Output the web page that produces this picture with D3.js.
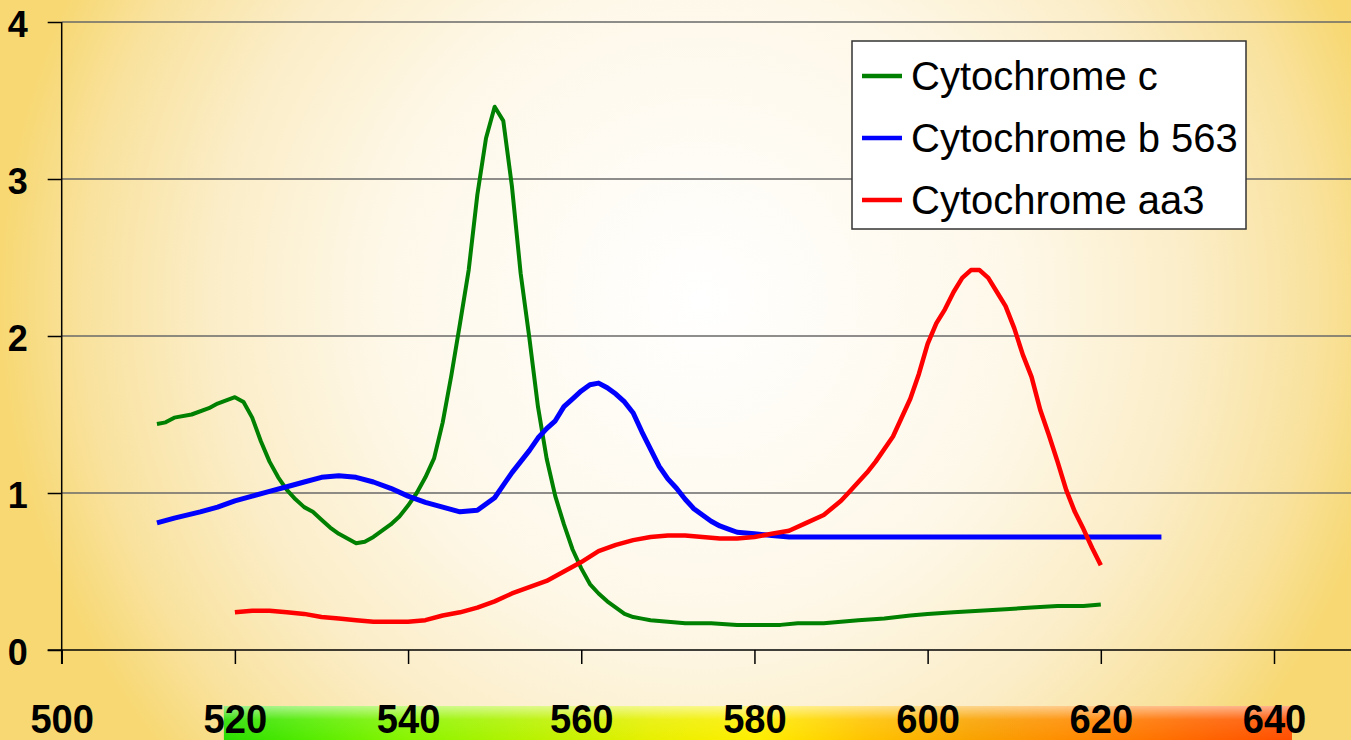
<!DOCTYPE html>
<html>
<head>
<meta charset="utf-8">
<script src="https://cdn.jsdelivr.net/npm/d3@7"></script>
<style>
  body { margin: 0; overflow: hidden; }
  svg { display: block; }
</style>
</head>
<body>
<div id="chart"></div>
<script>
// wavelength (nm) / absorbance pairs
const cytC = [
  [511, 1.44], [512, 1.45], [513, 1.48], [515, 1.50], [517, 1.54], [518, 1.57], [519, 1.59], [520, 1.61],
  [521, 1.58], [522, 1.48], [523, 1.33], [524, 1.20], [525, 1.10], [526, 1.02], [527, 0.96], [528, 0.91],
  [529, 0.88], [530, 0.83], [531, 0.78], [532, 0.74], [533, 0.71], [534, 0.68], [535, 0.69], [536, 0.72],
  [537, 0.76], [538, 0.80], [539, 0.85], [540, 0.92], [541, 1.00], [542, 1.10], [543, 1.22], [544, 1.45],
  [545, 1.75], [546, 2.08], [547, 2.42], [548, 2.90], [549, 3.26], [550, 3.46], [551, 3.37], [552, 2.95],
  [553, 2.40], [554, 1.99], [555, 1.55], [556, 1.22], [557, 0.98], [558, 0.80], [559, 0.64], [560, 0.52],
  [561, 0.42], [562, 0.36], [563, 0.31], [564, 0.27], [565, 0.23], [566, 0.21], [567, 0.20], [568, 0.19],
  [570, 0.18], [572, 0.17], [575, 0.17], [578, 0.16], [580, 0.16], [583, 0.16], [585, 0.17], [588, 0.17],
  [590, 0.18], [592, 0.19], [595, 0.20], [598, 0.22], [600, 0.23], [603, 0.24], [606, 0.25], [609, 0.26],
  [612, 0.27], [615, 0.28], [618, 0.28], [620, 0.29]
];

const cytB = [
  [511, 0.81], [513, 0.84], [516, 0.88], [518, 0.91], [520, 0.95], [522, 0.98], [524, 1.01], [526, 1.04],
  [528, 1.07], [530, 1.10], [532, 1.11], [534, 1.10], [536, 1.07], [538, 1.03], [540, 0.98], [542, 0.94],
  [544, 0.91], [546, 0.88], [548, 0.89], [549, 0.93], [550, 0.97], [551, 1.05], [552, 1.13], [553, 1.20],
  [554, 1.27], [555, 1.35], [556, 1.41], [557, 1.46], [558, 1.55], [559, 1.60], [560, 1.65], [561, 1.69],
  [562, 1.70], [563, 1.67], [564, 1.63], [565, 1.58], [566, 1.51], [567, 1.39], [568, 1.28], [569, 1.17],
  [570, 1.09], [571, 1.03], [572, 0.96], [573, 0.90], [574, 0.86], [575, 0.82], [576, 0.79], [577, 0.77],
  [578, 0.75], [580, 0.74], [582, 0.73], [584, 0.72], [627, 0.72]
];

const cytAA3 = [
  [520, 0.24], [522, 0.25], [524, 0.25], [526, 0.24], [528, 0.23], [530, 0.21], [532, 0.20], [534, 0.19],
  [536, 0.18], [538, 0.18], [540, 0.18], [542, 0.19], [544, 0.22], [546, 0.24], [548, 0.27], [550, 0.31],
  [552, 0.36], [554, 0.40], [556, 0.44], [558, 0.50], [560, 0.56], [562, 0.63], [564, 0.67], [566, 0.70],
  [568, 0.72], [570, 0.73], [572, 0.73], [574, 0.72], [576, 0.71], [578, 0.71], [580, 0.72], [582, 0.74],
  [584, 0.76], [586, 0.81], [588, 0.86], [590, 0.95], [591, 1.01], [593, 1.13], [594, 1.20], [596, 1.36],
  [598, 1.60], [599, 1.76], [600, 1.95], [601, 2.08], [602, 2.17], [603, 2.28], [604, 2.37], [605, 2.42],
  [606, 2.42], [607, 2.37], [608, 2.28], [609, 2.19], [610, 2.05], [611, 1.88], [612, 1.74], [613, 1.53],
  [614, 1.37], [615, 1.20], [616, 1.02], [617, 0.88], [618, 0.77], [619, 0.65], [620, 0.54]
];

const seriesNames = ["Cytochrome c", "Cytochrome b 563", "Cytochrome aa3"];
const seriesColors = ["#008000", "#0000ff", "#ff0000"];
const seriesWidths = [4, 5, 4.5];
const xTicks = [500, 520, 540, 560, 580, 600, 620, 640];
const yTicks = [0, 1, 2, 3, 4];

const width = 1351, height = 740;

const x = d3.scaleLinear().domain([500, 640]).range([61.7, 1274]);
const y = d3.scaleLinear().domain([0, 4]).range([650, 22]);

const svg = d3.select("#chart").append("svg").attr("width", width).attr("height", height);
const defs = svg.append("defs");

// background glow, round and wide so the sides stay yellow and the bottom stays pale
const bg = defs.append("radialGradient").attr("id", "bg")
  .attr("gradientUnits", "userSpaceOnUse")
  .attr("cx", 700).attr("cy", 300).attr("r", 700);
[[0, "#ffffff"], [0.45, "#fef8e9"], [0.7, "#fbedc7"], [0.88, "#f9e29e"], [1, "#f7d873"]].forEach(s =>
  bg.append("stop").attr("offset", s[0]).attr("stop-color", s[1]));
svg.append("rect").attr("width", width).attr("height", height).attr("fill", "url(#bg)");

// spectrum strip under the wavelength labels
const spec = defs.append("linearGradient").attr("id", "spec");
[[0, "#2ade00"], [0.08, "#55ec00"], [0.17, "#88f500"], [0.3, "#bdf200"], [0.4, "#e8f000"], [0.5, "#ffee00"],
 [0.6, "#ffc400"], [0.7, "#f9a300"], [0.8, "#ff8a00"], [0.9, "#ff6a00"], [1, "#ff4e00"]].forEach(s =>
  spec.append("stop").attr("offset", s[0]).attr("stop-color", s[1]));
const shine = defs.append("linearGradient").attr("id", "shine").attr("x1", 0).attr("x2", 0).attr("y1", 0).attr("y2", 1);
shine.append("stop").attr("offset", 0).attr("stop-color", "#fff").attr("stop-opacity", 0.55);
shine.append("stop").attr("offset", 0.4).attr("stop-color", "#fff").attr("stop-opacity", 0.1);
shine.append("stop").attr("offset", 1).attr("stop-color", "#fff").attr("stop-opacity", 0);

const sx0 = x(520) - 11, sx1 = x(640) + 18;
svg.append("rect").attr("x", sx0).attr("y", 706).attr("width", sx1 - sx0).attr("height", 34).attr("fill", "url(#spec)");
svg.append("rect").attr("x", sx0).attr("y", 706).attr("width", sx1 - sx0).attr("height", 34).attr("fill", "url(#shine)");

// gridlines
svg.append("g")
  .selectAll("line")
  .data(yTicks.filter(d => d > 0))
  .join("line")
  .attr("x1", x(500)).attr("x2", width)
  .attr("y1", d => y(d)).attr("y2", d => y(d))
  .attr("stroke", "#686868").attr("stroke-width", 1.5);

// y axis
const yAxis = svg.append("g")
  .attr("transform", `translate(${x(500)},0)`)
  .call(d3.axisLeft(y).tickValues(yTicks).tickSize(14).tickPadding(20).tickFormat(d3.format("d")));
yAxis.select(".domain").remove();
yAxis.selectAll("line").attr("stroke", "#000").attr("stroke-width", 1.5);
yAxis.selectAll("text")
  .attr("dy", "0.4em")
  .style("font-family", "'Liberation Sans', Arial, sans-serif")
  .style("font-weight", "bold").style("font-size", "36px").attr("fill", "#000");

// x axis
const xAxis = svg.append("g")
  .attr("transform", `translate(0,${y(0)})`)
  .call(d3.axisBottom(x).tickValues(xTicks).tickSize(14).tickFormat(d3.format("d")));
xAxis.select(".domain").remove();
xAxis.selectAll("line").attr("stroke", "#000").attr("stroke-width", 1.5);
xAxis.selectAll("text")
  .attr("y", 83).attr("dy", 0)
  .attr("transform", "scale(0.93,1)")
  .style("font-family", "'Liberation Sans', Arial, sans-serif")
  .style("font-weight", "bold").style("font-size", "41px").attr("fill", "#000");

// axis lines
svg.append("line").attr("x1", x(500) - 14).attr("x2", width).attr("y1", y(0)).attr("y2", y(0))
  .attr("stroke", "#000").attr("stroke-width", 1.5);
svg.append("line").attr("x1", x(500)).attr("x2", x(500)).attr("y1", y(4)).attr("y2", y(0) + 14)
  .attr("stroke", "#000").attr("stroke-width", 1.5);

// series
const line = d3.line().x(d => x(d[0])).y(d => y(d[1]));
const allSeries = [cytC, cytB, cytAA3];
svg.append("g")
  .selectAll("path")
  .data(allSeries)
  .join("path")
  .attr("d", line)
  .attr("fill", "none")
  .attr("stroke", (d, i) => seriesColors[i])
  .attr("stroke-width", (d, i) => seriesWidths[i])
  .attr("stroke-linejoin", "round");

// legend
const legend = svg.append("g").attr("transform", "translate(852,41)");
legend.append("rect").attr("width", 394).attr("height", 188)
  .attr("fill", "#fff").attr("stroke", "#333").attr("stroke-width", 1.5);
const item = legend.selectAll(".legend-item")
  .data(seriesNames)
  .join("g")
  .attr("class", "legend-item")
  .attr("transform", (d, i) => `translate(0,${35 + i * 62})`);
item.append("line").attr("x1", 10).attr("x2", 50)
  .attr("stroke", (d, i) => seriesColors[i]).attr("stroke-width", 4.5);
item.append("text").attr("x", 59).attr("y", 14)
  .style("font-family", "'Liberation Sans', Arial, sans-serif")
  .style("font-size", "40px").attr("fill", "#000")
  .text(d => d);
</script>
</body>
</html>
